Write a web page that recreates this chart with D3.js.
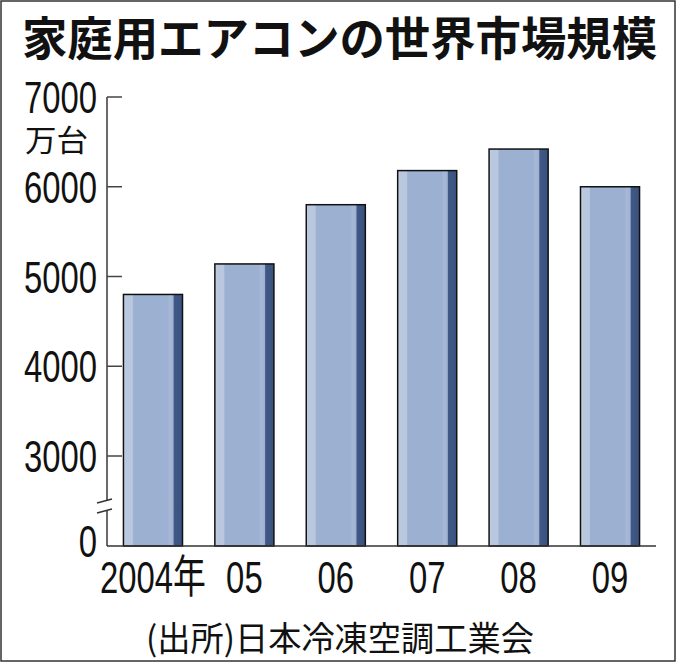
<!DOCTYPE html>
<html><head><meta charset="utf-8">
<script src="https://cdn.jsdelivr.net/npm/d3@7"></script>
<style>html,body{margin:0;padding:0;background:#fff;}svg{display:block;}</style>
</head><body>
<svg id="c" width="680" height="663"></svg>
<script>
const title = "家庭用エアコンの世界市場規模";
const unitLabel = "万台";
const source = "(出所)日本冷凍空調工業会";
const categories = ["2004年", "05", "06", "07", "08", "09"];
const values = [4800, 5140, 5800, 6180, 6420, 6000];
const yTicks = [3000, 4000, 5000, 6000, 7000];
const yZeroLabel = "0";

const svg = d3.select("#c");
svg.append("rect").attr("x",1).attr("y",1).attr("width",674).attr("height",660)
  .attr("fill","#fff").attr("stroke","#333").attr("stroke-width",1.5);

const defs = svg.append("defs");
const g = defs.append("linearGradient").attr("id","barg").attr("x1","0").attr("x2","1").attr("y1","0").attr("y2","0");
[["0%","#c9d5e8"],["4%","#b9c8df"],["15%","#b9c8df"],["17%","#9cb0d1"],["74%","#9cb0d1"],["79%","#a8b9d7"],["84%","#9fb2d2"],["86%","#3f5886"],["100%","#3a5280"]]
  .forEach(([o,c])=>g.append("stop").attr("offset",o).attr("stop-color",c));

const x = d3.scaleBand().domain(categories).range([107,656]).paddingInner(0.354).paddingOuter(0.18);
const y = d3.scaleLinear().domain([0,3000,7000]).range([546,456,97]);
const SX = 0.73;

// title
svg.append("text").attr("x",22).attr("y",55).text(title)
  .attr("font-family","'Noto Sans CJK JP'").attr("font-weight",700).attr("font-size",46)
  .attr("textLength",635).attr("lengthAdjust","spacingAndGlyphs").attr("fill","#111");

// bars
svg.selectAll("rect.bar").data(values).join("rect").attr("class","bar")
  .attr("x",(d,i)=>x(categories[i])).attr("width",x.bandwidth())
  .attr("y",d=>y(d)).attr("height",d=>y(0)-y(d))
  .attr("fill","url(#barg)").attr("stroke","#111").attr("stroke-width",1.5);

// y axis line with break
const ax = 107;
svg.append("line").attr("x1",ax).attr("x2",ax).attr("y1",y(7000)).attr("y2",501).attr("stroke","#444").attr("stroke-width",1.6);
svg.append("line").attr("x1",ax).attr("x2",ax).attr("y1",510).attr("y2",y(0)).attr("stroke","#444").attr("stroke-width",1.6);
[[503,499],[513,509]].forEach(([a,b])=>{
  svg.append("line").attr("x1",97).attr("x2",112).attr("y1",a).attr("y2",b).attr("stroke","#333").attr("stroke-width",1.6);
});
svg.selectAll("line.tk").data(yTicks).join("line").attr("class","tk")
  .attr("x1",ax).attr("x2",122).attr("y1",d=>y(d)).attr("y2",d=>y(d)).attr("stroke","#444").attr("stroke-width",1.5);

// y labels
svg.selectAll("text.yl").data(yTicks).join("text").attr("class","yl")
  .attr("transform",d=>`translate(97,${y(d)+16}) scale(${SX},1)`).attr("text-anchor","end").text(d=>d)
  .attr("font-family","'Liberation Sans'").attr("font-size",45).attr("fill","#111");
svg.append("text").attr("transform",`translate(97,${y(0)+11}) scale(${SX},1)`).attr("text-anchor","end").text(yZeroLabel)
  .attr("font-family","'Liberation Sans'").attr("font-size",45).attr("fill","#111");
svg.append("text").attr("x",25).attr("y",151).text(unitLabel)
  .attr("font-family","'Noto Sans CJK JP'").attr("font-size",30).attr("fill","#111")
  .attr("textLength",63).attr("lengthAdjust","spacingAndGlyphs");

// x axis baseline
svg.append("line").attr("x1",ax).attr("x2",656).attr("y1",y(0)).attr("y2",y(0)).attr("stroke","#333").attr("stroke-width",1.6);
// x labels
svg.selectAll("text.xl").data(categories).join("text").attr("class","xl")
  .attr("transform",d=>`translate(${x(d)+x.bandwidth()/2},593) scale(${SX},1)`).attr("text-anchor","middle").text(d=>d)
  .attr("font-family","'Liberation Sans','Noto Sans CJK JP'").attr("font-size",45).attr("fill","#111");

// source
svg.append("text").attr("x",146).attr("y",651).text(source)
  .attr("font-family","'Noto Sans CJK JP'").attr("font-size",34).attr("fill","#111")
  .attr("textLength",388).attr("lengthAdjust","spacingAndGlyphs");
</script>
</body></html>
